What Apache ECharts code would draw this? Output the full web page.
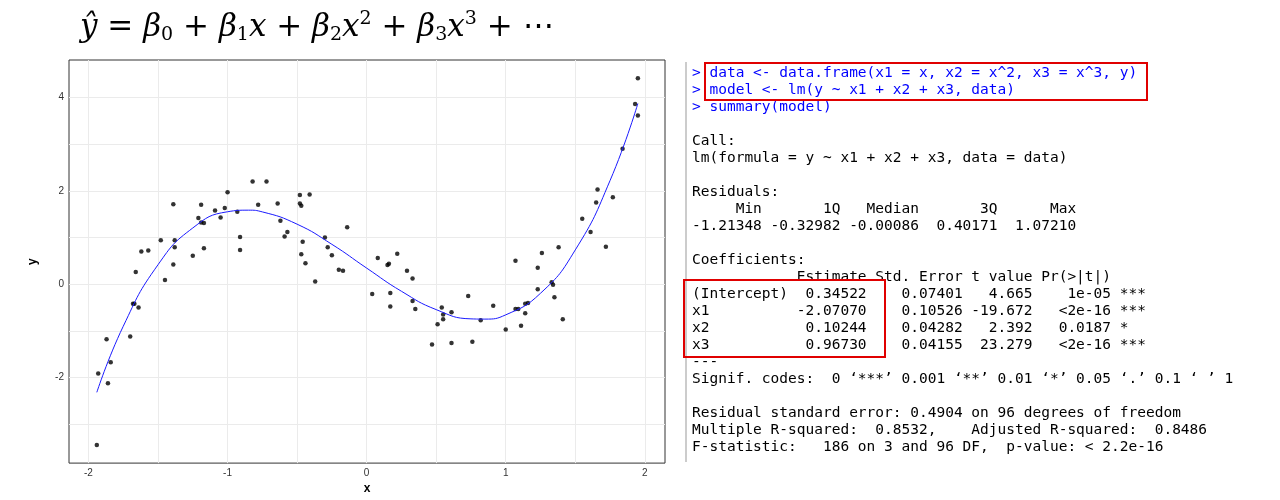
<!DOCTYPE html>
<html><head><meta charset="utf-8">
<script src="https://cdn.jsdelivr.net/npm/echarts@6/dist/echarts.min.js"></script>
<style>html,body{margin:0;padding:0;background:#fff}#c{width:1280px;height:500px}</style>
</head><body><div id="c"></div>
<script>
const pointsX = [-1.94,-1.93,-1.87,-1.86,-1.84,-1.70,-1.68,-1.67,-1.66,-1.64,-1.62,-1.57,-1.48,-1.45,-1.39,-1.38,-1.38,-1.39,-1.25,-1.21,-1.19,-1.19,-1.17,-1.17,-1.09,-1.05,-1.02,-1.00,-0.93,-0.91,-0.91,-0.82,-0.78,-0.72,-0.64,-0.62,-0.59,-0.57,-0.48,-0.48,-0.47,-0.46,-0.47,-0.44,-0.41,-0.37,-0.30,-0.28,-0.25,-0.20,-0.17,-0.14,0.04,0.08,0.15,0.16,0.17,0.17,0.22,0.29,0.33,0.33,0.35,0.47,0.51,0.54,0.55,0.55,0.61,0.61,0.73,0.76,0.82,0.91,1.00,1.07,1.07,1.09,1.11,1.14,1.14,1.16,1.23,1.23,1.26,1.33,1.34,1.35,1.38,1.41,1.55,1.61,1.65,1.66,1.72,1.77,1.84,1.93,1.95,1.95];
const pointsY = [-3.44,-1.91,-1.18,-2.12,-1.67,-1.12,-0.42,-0.42,0.26,-0.50,0.70,0.72,0.94,0.09,1.71,0.94,0.79,0.42,0.61,1.42,1.70,1.32,1.31,0.77,1.58,1.43,1.63,1.97,1.55,1.01,0.73,2.20,1.70,2.20,1.73,1.36,1.02,1.12,1.91,1.73,1.68,0.91,0.64,0.45,1.92,0.06,1.00,0.79,0.62,0.31,0.29,1.22,-0.21,0.56,0.41,0.44,-0.19,-0.48,0.65,0.29,0.12,-0.36,-0.53,-1.29,-0.86,-0.50,-0.65,-0.75,-0.60,-1.26,-0.25,-1.23,-0.77,-0.46,-0.97,0.50,-0.53,-0.53,-0.89,-0.62,-0.42,-0.40,0.35,-0.11,0.67,0.04,-0.01,-0.28,0.79,-0.75,1.40,1.12,1.75,2.03,0.80,1.86,2.90,3.86,3.61,4.41];
const curveX = [-1.94,-1.75,-1.5,-1.25,-1.0,-0.85,-0.75,-0.5,-0.25,0,0.25,0.5,0.75,0.85,1.0,1.25,1.5,1.75,1.95];
const curveY = [-2.315,-0.901,0.417,1.204,1.551,1.585,1.548,1.285,0.854,0.345,-0.151,-0.544,-0.742,-0.747,-0.656,-0.194,0.734,2.219,3.869];
const xTicks = [-2,-1,0,1,2];
const yTicks = [-2,0,2,4];
const xGrid = [-2,-1.5,-1,-0.5,0,0.5,1,1.5,2];
const yGrid = [-3,-2,-1,0,1,2,3,4];
const consoleLines = [
 ['> data <- data.frame(x1 = x, x2 = x^2, x3 = x^3, y)','#0000ff'],
 ['> model <- lm(y ~ x1 + x2 + x3, data)','#0000ff'],
 ['> summary(model)','#0000ff'],
 ['',''],
 ['Call:','#000'],
 ['lm(formula = y ~ x1 + x2 + x3, data = data)','#000'],
 ['',''],
 ['Residuals:','#000'],
 ['     Min       1Q   Median       3Q      Max ','#000'],
 ['-1.21348 -0.32982 -0.00086  0.40171  1.07210 ','#000'],
 ['',''],
 ['Coefficients:','#000'],
 ['            Estimate Std. Error t value Pr(>|t|)    ','#000'],
 ['(Intercept)  0.34522    0.07401   4.665    1e-05 ***','#000'],
 ['x1          -2.07070    0.10526 -19.672   <2e-16 ***','#000'],
 ['x2           0.10244    0.04282   2.392   0.0187 *  ','#000'],
 ['x3           0.96730    0.04155  23.279   <2e-16 ***','#000'],
 ['---','#000'],
 ["Signif. codes:  0 \u2018***\u2019 0.001 \u2018**\u2019 0.01 \u2018*\u2019 0.05 \u2018.\u2019 0.1 \u2018 \u2019 1",'#000'],
 ['',''],
 ['Residual standard error: 0.4904 on 96 degrees of freedom','#000'],
 ['Multiple R-squared:  0.8532,    Adjusted R-squared:  0.8486 ','#000'],
 ['F-statistic:   186 on 3 and 96 DF,  p-value: < 2.2e-16','#000']
];
const ch = echarts.init(document.getElementById('c'));
const mono = '"DejaVu Sans Mono", "Liberation Mono", monospace';
const g = [];
consoleLines.forEach((l,i)=>{ if(!l[0]) return;
  g.push({type:'text', left:692, top:66+i*17, style:{text:l[0], fill:l[1], font:'14.5px '+mono}});
});
g.push({type:'line', shape:{x1:686,y1:62,x2:686,y2:462}, style:{stroke:'#ccc',lineWidth:2}});
g.push({type:'rect', shape:{x:705,y:63,width:442,height:37}, style:{fill:'none',stroke:'#e00000',lineWidth:2}});
g.push({type:'rect', shape:{x:684,y:280,width:201,height:77}, style:{fill:'none',stroke:'#e00000',lineWidth:2}});
const mf = '31px "DejaVu Serif", "Liberation Serif", serif';
const sf = '19px "DejaVu Serif", serif';
g.push({type:'text', left:80, top:10, style:{
  rich:{m:{font:'italic '+mf,fill:'#000'},n:{font:mf,fill:'#000'},s:{font:sf,fill:'#000',verticalAlign:'bottom',padding:[16,0,0,0]},p:{font:sf,fill:'#000',verticalAlign:'top',padding:[0,0,16,0]}},
  text:'{m|ŷ}{n| = }{m|β}{s|0}{n| + }{m|β}{s|1}{m|x}{n| + }{m|β}{s|2}{m|x}{p|2}{n| + }{m|β}{s|3}{m|x}{p|3}{n| + ⋯}'
}});
ch.setOption({
  animation:false,
  graphic:g,
  grid:{left:69,right:615,top:60,bottom:35,show:true,borderColor:'#333',borderWidth:1},
  xAxis:{type:'value',min:-2.14,max:2.145,name:'x',nameLocation:'middle',nameGap:18,
    nameTextStyle:{fontWeight:'bold',fontSize:12,color:'#000'},
    axisLine:{show:false},
    axisTick:{show:true,customValues:xTicks,length:3,lineStyle:{color:'#333'}},
    axisLabel:{customValues:xTicks,fontSize:10,color:'#333',margin:5},
    splitLine:{show:false}},
  yAxis:{type:'value',min:-3.83,max:4.8,name:'y',nameLocation:'middle',nameGap:30,
    nameTextStyle:{fontWeight:'bold',fontSize:12,color:'#000'},
    axisLine:{show:false},
    axisTick:{show:true,customValues:yTicks,length:3,lineStyle:{color:'#333'}},
    axisLabel:{customValues:yTicks,fontSize:10,color:'#333',margin:5},
    splitLine:{show:false}},
  series:[
    {type:'scatter',z:0,data:[],silent:true,
     markLine:{silent:true,symbol:'none',label:{show:false},emphasis:{disabled:true},lineStyle:{color:'#ebebeb',type:'solid',width:1},
       data:xGrid.map(v=>({xAxis:v})).concat(yGrid.map(v=>({yAxis:v})))}},
    {type:'scatter',z:5,data:pointsX.map((x,i)=>[x,pointsY[i]]),symbolSize:4.5,itemStyle:{color:'#000'}},
    {type:'line',z:6,data:curveX.map((x,i)=>[x,curveY[i]]),smooth:true,symbol:'none',lineStyle:{color:'#1a1aff',width:1}}
  ]
});
</script></body></html>
